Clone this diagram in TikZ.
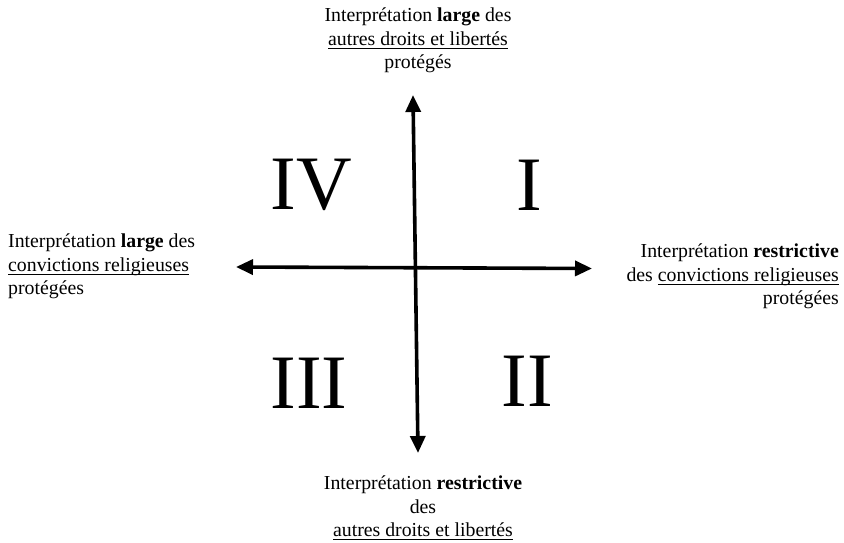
\documentclass[tikz,border=0pt]{standalone}
\usepackage{fontspec}
\setmainfont{Liberation Serif}
\usetikzlibrary{arrows.meta}
\newcommand{\undl}[1]{\setbox0\hbox{#1}\rlap{\rule[-3.2pt]{\wd0}{0.9pt}}\box0}
\tikzset{
  lbl/.style={inner sep=0pt, font=\fontsize{19.8}{23.5}\selectfont},
  numeral/.style={inner sep=0pt, font=\fontsize{77}{86}\selectfont},
  axis/.style={line width=3.6pt, {Triangle[length=17pt,width=15pt]}-{Triangle[length=17pt,width=15pt]}}
}
\begin{document}
\begin{tikzpicture}[x=1pt,y=1pt]
\useasboundingbox (0,0) rectangle (844,543);
% axes
\coordinate (vtop) at (413,448);
\coordinate (vbot) at (418,90);
\coordinate (hleft) at (236,276);
\coordinate (hright) at (592,274.5);
\draw[axis] (vtop) -- (vbot);
\draw[axis] (hleft) -- (hright);
% labels
\node[lbl, anchor=north, align=center] (top) at (418,535)
  {Interprétation \textbf{large} des\\ \undl{autres droits et libertés}\\ protégés};
\node[lbl, anchor=north west, align=left] (left) at (8,309)
  {Interprétation \textbf{large} des\\ \undl{convictions religieuses}\\ protégées};
\node[lbl, anchor=north east, align=right] (right) at (839,299)
  {Interprétation \textbf{restrictive}\\ des \undl{convictions religieuses}\\ protégées};
\node[lbl, anchor=north, align=center] (bottom) at (423,67)
  {Interprétation \textbf{restrictive}\\ des\\ \undl{autres droits et libertés}};
% quadrant numerals
\node[numeral] (q4) at (311,358) {IV};
\node[numeral] (q1) at (529,358) {I};
\node[numeral] (q3) at (309,160) {III};
\node[numeral] (q2) at (527,162) {II};
\end{tikzpicture}
\end{document}
